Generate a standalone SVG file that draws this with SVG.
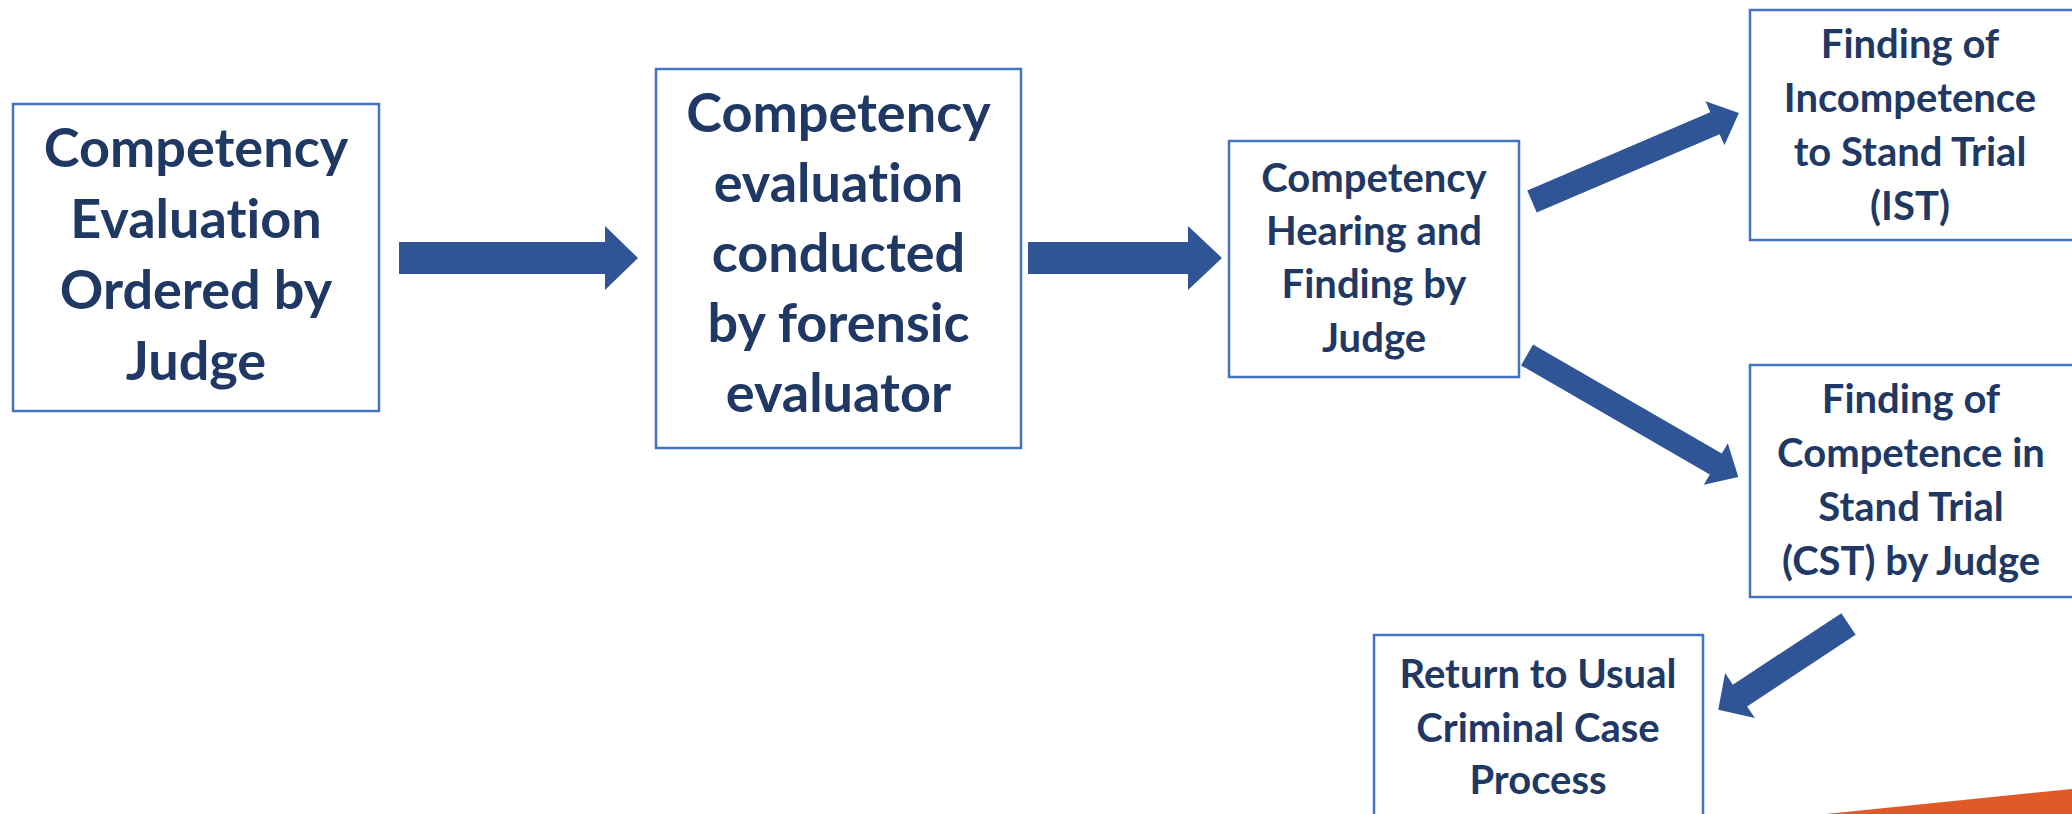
<svg xmlns="http://www.w3.org/2000/svg" width="2072" height="814" viewBox="0 0 2072 814">
<style>
.box{fill:#ffffff;stroke:#4472C4;stroke-width:2.5}
.t{font-family:Lato,"Open Sans","Liberation Sans",sans-serif;font-weight:bold;fill:#1F3864;text-anchor:middle;font-variant-ligatures:none;font-feature-settings:"liga" 0}
.big{font-size:54px}
.sm{font-size:40px}
.arr{fill:#2F5597}
</style>
<rect x="0" y="0" width="2072" height="814" fill="#ffffff"/>
<polygon points="1826,814 2072,789 2072,814" fill="#E05A28"/>
<g id="connectors">
<polygon class="arr" points="399,242 605,242 605,226 638,258 605,290 605,274 399,274"/>
<polygon class="arr" points="1028,242 1188,242 1188,226 1222,258 1188,290 1188,274 1028,274"/>
<polygon class="arr" transform="translate(1532,201.5) rotate(-23.15)" points="0,-12 199,-12 199,-24 225,0 199,24 199,12 0,12"/>
<polygon class="arr" transform="translate(1527,355) rotate(30)" points="0,-12 218,-12 218,-24 244,0 218,24 218,12 0,12"/>
<polygon class="arr" transform="translate(1848.5,624) rotate(146.6)" points="0,-13 130,-13 130,-27 156,0 130,27 130,13 0,13"/>
</g>
<g id="node-ordered">
<rect class="box" x="13" y="104" width="366" height="307"/>
<text class="t big"><tspan x="196" y="167">Competency</tspan><tspan x="196" y="238">Evaluation</tspan><tspan x="196" y="309">Ordered by</tspan><tspan x="196" y="380">Judge</tspan></text>
</g>
<g id="node-conducted">
<rect class="box" x="656" y="69" width="365" height="379"/>
<text class="t big"><tspan x="838.5" y="132">Competency</tspan><tspan x="838.5" y="202">evaluation</tspan><tspan x="838.5" y="272">conducted</tspan><tspan x="838.5" y="342">by forensic</tspan><tspan x="838.5" y="412">evaluator</tspan></text>
</g>
<g id="node-hearing">
<rect class="box" x="1229" y="141" width="290" height="236"/>
<text class="t sm"><tspan x="1374" y="192">Competency</tspan><tspan x="1374" y="245">Hearing and</tspan><tspan x="1374" y="298">Finding by</tspan><tspan x="1374" y="352">Judge</tspan></text>
</g>
<g id="node-ist">
<rect class="box" x="1750" y="10" width="340" height="230"/>
<text class="t sm"><tspan x="1910" y="58">Finding of</tspan><tspan x="1910" y="112">Incompetence</tspan><tspan x="1910" y="166">to Stand Trial</tspan><tspan x="1910" y="220">(IST)</tspan></text>
</g>
<g id="node-cst">
<rect class="box" x="1750" y="365" width="340" height="232"/>
<text class="t sm"><tspan x="1911" y="413">Finding of</tspan><tspan x="1911" y="467">Competence in</tspan><tspan x="1911" y="521">Stand Trial</tspan><tspan x="1911" y="575">(CST) by Judge</tspan></text>
</g>
<g id="node-return">
<rect class="box" x="1374" y="635" width="329" height="200"/>
<text class="t sm"><tspan x="1538" y="688">Return to Usual</tspan><tspan x="1538" y="742">Criminal Case</tspan><tspan x="1538" y="794">Process</tspan></text>
</g>
</svg>
